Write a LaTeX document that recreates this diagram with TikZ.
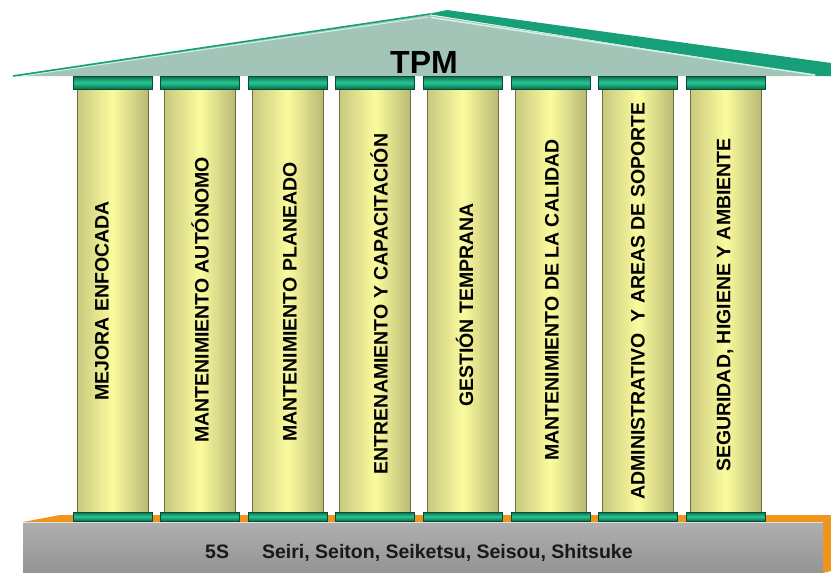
\documentclass[tikz,border=0pt]{standalone}
\usepackage{fontspec}
\setmainfont{Liberation Sans}
\definecolor{roofgray}{HTML}{A2C5B7}
\definecolor{roofgreen}{HTML}{17A077}
\definecolor{rooflight}{HTML}{CFF3E6}
\definecolor{capdark}{HTML}{0B6B4C}
\definecolor{capbright}{HTML}{25C793}
\definecolor{shaftedge}{HTML}{C9C97F}
\definecolor{shaftmid}{HTML}{FBFB9E}
\definecolor{shaftline}{HTML}{6E6E45}
\definecolor{basegray}{HTML}{949494}
\definecolor{baseorange}{HTML}{F0951C}
\tikzset{
  shaft/.style={draw=shaftline, line width=1pt, left color=shaftedge, right color=shaftedge!92!black, middle color=shaftmid},
  capital/.style={draw=capdark!70!black, line width=0.8pt, top color=capdark, bottom color=capdark, middle color=capbright},
  pillartext/.style={rotate=90, inner sep=0pt, text=black, font=\fontsize{19.5}{20}\selectfont\bfseries},
}
\begin{document}
\begin{tikzpicture}[x=1pt,y=-1pt]
\useasboundingbox (0,0) rectangle (831,573);
% base
\fill[baseorange] (23,522) -- (60,515) -- (831,515) -- (823,522) -- cycle;
\fill[baseorange] (823,522) -- (831,515) -- (831,571) -- (823,573) -- cycle;
\shade[top color=basegray!75!white, bottom color=basegray] (23,522) rectangle (823,573);
\draw[white!75!gray, line width=1pt] (23,522.5) -- (823,522.5);
\node[anchor=base west, inner sep=0pt, text=black!90, font=\fontsize{19.5}{20}\selectfont\bfseries] (fives) at (205,558) {5S\hspace{33pt}Seiri, Seiton, Seiketsu, Seisou, Shitsuke};
% roof
\fill[roofgray] (13,76) -- (428,15) -- (818,76) -- cycle;
\fill[roofgreen] (428,14) -- (447,10) -- (831,63) -- (831,76) -- (818,76) -- cycle;
\draw[rooflight, line width=1.5pt] (431,17.5) -- (815,75);
\draw[rooflight, line width=1pt] (18,76.5) -- (428,17);
\draw[roofgreen, line width=1.6pt] (13,76) -- (430,14);
\node[anchor=base, inner sep=0pt, text=black, font=\fontsize{32}{34}\selectfont\bfseries] (tpm) at (424,73) {TPM};
% pillars
\draw[shaft] (77,89) rectangle (148,512);
\draw[shaft] (164.6,89) rectangle (235.6,512);
\draw[shaft] (252.2,89) rectangle (323.2,512);
\draw[shaft] (339.8,89) rectangle (410.8,512);
\draw[shaft] (427.4,89) rectangle (498.4,512);
\draw[shaft] (515,89) rectangle (586,512);
\draw[shaft] (602.6,89) rectangle (673.6,512);
\draw[shaft] (690.2,89) rectangle (761.2,512);
% capitals
\draw[capital] (73,76) rectangle (152,89);
\draw[capital] (160.6,76) rectangle (239.6,89);
\draw[capital] (248.2,76) rectangle (327.2,89);
\draw[capital] (335.8,76) rectangle (414.8,89);
\draw[capital] (423.4,76) rectangle (502.4,89);
\draw[capital] (511,76) rectangle (590,89);
\draw[capital] (598.6,76) rectangle (677.6,89);
\draw[capital] (686.2,76) rectangle (765.2,89);
\draw[capital] (73,512) rectangle (152,521);
\draw[capital] (160.6,512) rectangle (239.6,521);
\draw[capital] (248.2,512) rectangle (327.2,521);
\draw[capital] (335.8,512) rectangle (414.8,521);
\draw[capital] (423.4,512) rectangle (502.4,521);
\draw[capital] (511,512) rectangle (590,521);
\draw[capital] (598.6,512) rectangle (677.6,521);
\draw[capital] (686.2,512) rectangle (765.2,521);
% labels
\node[pillartext] (mejora) at (102,301) {MEJORA ENFOCADA};
\node[pillartext] (autonomo) at (200.1,300) {MANTENIMIENTO AUTÓNOMO};
\node[pillartext] (planeado) at (290,302) {MANTENIMIENTO PLANEADO};
\node[pillartext] (entrena) at (379,304) {ENTRENAMIENTO Y CAPACITACIÓN};
\node[pillartext] (gestion) at (464.5,305) {GESTIÓN TEMPRANA};
\node[pillartext] (calidad) at (552,300) {MANTENIMIENTO DE LA CALIDAD};
\node[pillartext] (admin) at (638,301) {ADMINISTRATIVO\ \ Y AREAS DE SOPORTE};
\node[pillartext] (seguridad) at (725,305) {SEGURIDAD, HIGIENE Y AMBIENTE};
\end{tikzpicture}
\end{document}
